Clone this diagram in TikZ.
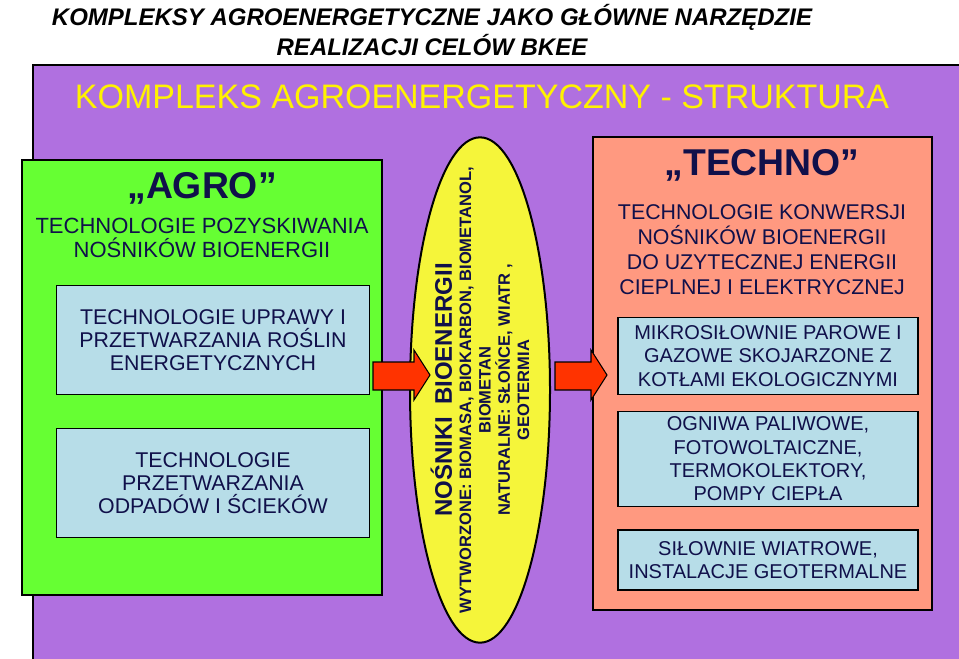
\documentclass[tikz,border=0pt]{standalone}
\usepackage{fontspec}
\setmainfont{Liberation Sans}
\usetikzlibrary{shapes.geometric}
\definecolor{tlo}{HTML}{B070E0}
\definecolor{zielen}{HTML}{66FF33}
\definecolor{losos}{HTML}{FF9980}
\definecolor{jasny}{HTML}{B7DDE8}
\definecolor{zolty}{HTML}{F5F53A}
\definecolor{granat}{HTML}{10104A}
\definecolor{strzala}{HTML}{FF3300}
\tikzset{
  ramka/.style={draw=black,line width=2pt},
  pudlo/.style={ramka,line width=1pt,fill=jasny,minimum width=234.75pt,align=center,text=granat,font=\fontsize{16}{17.5}\selectfont},
  tekst/.style={align=center,text=granat,font=\fontsize{16.5}{18.5}\selectfont},
  naglowek/.style={font=\bfseries\fontsize{28}{30}\selectfont,text=granat},
  strz/.style={draw=black,fill=strzala,line width=0.8pt}
}
\newcommand{\strzalka}[2]{% x poczatku, x konca
  \draw[strz] (#1,362) -- (#2-16,362) -- (#2-16,350) -- (#2,375) -- (#2-16,400) -- (#2-16,390) -- (#1,390) -- cycle;}
\begin{document}
\begin{tikzpicture}[x=0.75pt,y=-0.75pt]
\useasboundingbox (0,0) rectangle (959,658);
\fill[white] (0,0) rectangle (959,658);
% tytul
\node[font=\bfseries\itshape\fontsize{18}{22.5}\selectfont,align=center] (tytul) at (432,30)
  {KOMPLEKSY AGROENERGETYCZNE JAKO GŁÓWNE NARZĘDZIE\\REALIZACJI CELÓW BKEE};
\draw[ramka,fill=tlo] (33,65) rectangle (962,662);
\node[text=yellow,font=\fontsize{25.5}{27}\selectfont] (struktura) at (482,97) {KOMPLEKS AGROENERGETYCZNY - STRUKTURA};
% AGRO
\draw[ramka,fill=zielen] (22,160) rectangle (382,595);
\node[naglowek] (agro) at (202,188) {„AGRO”};
\node[tekst] (pozysk) at (202,238) {TECHNOLOGIE POZYSKIWANIA\\NOŚNIKÓW BIOENERGII};
\node[pudlo,minimum height=82pt] (uprawa) at (213,340) {TECHNOLOGIE UPRAWY I\\PRZETWARZANIA ROŚLIN\\ENERGETYCZNYCH};
\node[pudlo,minimum height=82pt] (odpady) at (213,483) {TECHNOLOGIE\\PRZETWARZANIA\\ODPADÓW I ŚCIEKÓW};
% nosniki
\node[ellipse,draw=black,line width=1.5pt,fill=zolty,minimum width=105pt,minimum height=379pt] (nosniki) at (480,390) {};
\node[rotate=90,align=center,text=granat,font=\bfseries\fontsize{12.4}{14.5}\selectfont] (opis) at (nosniki)
  {{\fontsize{18}{21}\selectfont NOŚNIKI\enspace BIOENERGII}\\
   WYTWORZONE: BIOMASA, BIOKARBON, BIOMETANOL,\\BIOMETAN\\NATURALNE: SŁOŃCE, WIATR ,\\GEOTERMIA};
% TECHNO
\draw[ramka,fill=losos] (593,137) rectangle (932,610);
\node[naglowek] (techno) at (762,165) {„TECHNO”};
\node[tekst,font=\fontsize{16}{18.7}\selectfont] (konwersja) at (762,250) {TECHNOLOGIE KONWERSJI\\NOŚNIKÓW BIOENERGII\\DO UZYTECZNEJ ENERGII\\CIEPLNEJ I ELEKTRYCZNEJ};
\begin{scope}[every node/.style={pudlo,minimum width=225pt,font=\fontsize{15}{17.5}\selectfont}]
\node[minimum height=58pt] (mikro) at (768,356) {MIKROSIŁOWNIE PAROWE I\\GAZOWE SKOJARZONE Z\\KOTŁAMI EKOLOGICZNYMI};
\node[minimum height=71pt] (ogniwa) at (768,459) {OGNIWA PALIWOWE,\\FOTOWOLTAICZNE,\\TERMOKOLEKTORY,\\POMPY CIEPŁA};
\node[minimum height=45pt] (wiatr) at (768,560) {SIŁOWNIE WIATROWE,\\INSTALACJE GEOTERMALNE};
\end{scope}
% strzalki na wierzchu
\strzalka{373}{430}
\strzalka{555}{607}
\end{tikzpicture}
\end{document}
